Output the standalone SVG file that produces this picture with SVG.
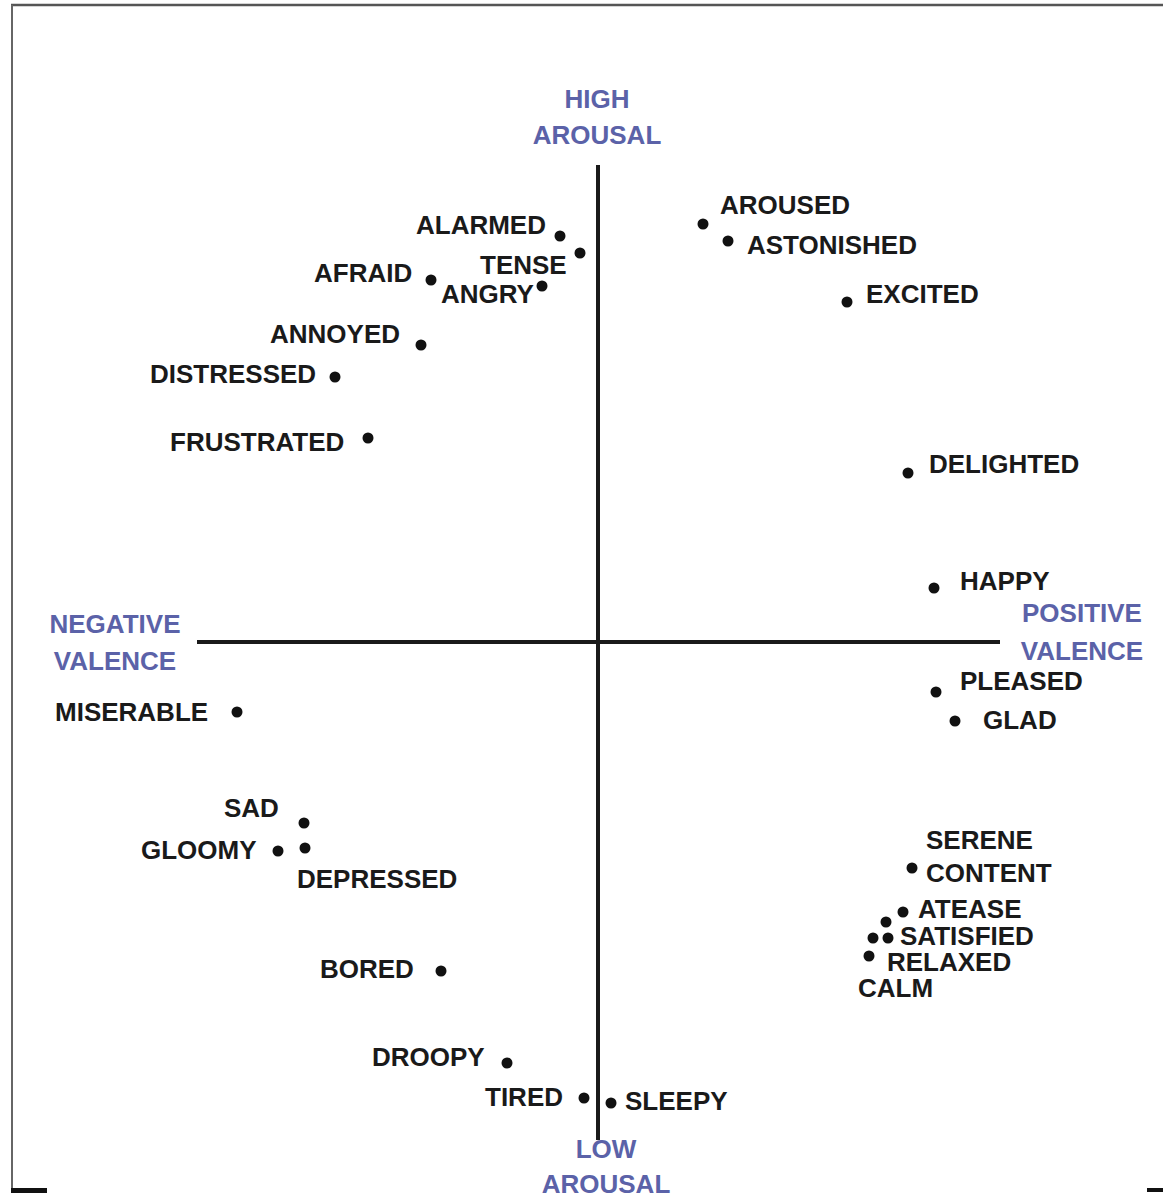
<svg xmlns="http://www.w3.org/2000/svg" width="1163" height="1195" viewBox="0 0 1163 1195">
<style>
.lbl{font-family:"Liberation Sans",Arial,sans-serif;font-weight:bold;font-size:26px;fill:#1a1a1a}
.ax{font-family:"Liberation Sans",Arial,sans-serif;font-weight:bold;font-size:26px;fill:#5b62a8;text-anchor:middle}
.dot{fill:#111}
.axis{stroke:#1a1a1a;stroke-width:4;fill:none}
</style>
<rect width="1163" height="1195" fill="#fff"/>
<g id="frame">
<line x1="11" y1="5" x2="1163" y2="5" stroke="#555" stroke-width="2.5"/>
<line x1="12" y1="5" x2="12" y2="1192" stroke="#666" stroke-width="2"/>
<rect x="11" y="1188" width="36" height="5" fill="#111"/>
<rect x="1147" y="1188" width="16" height="4" fill="#111"/>
</g>
<g id="axes">
<line class="axis" x1="598" y1="165" x2="598" y2="1140"/>
<line class="axis" x1="197" y1="642" x2="1000" y2="642"/>
</g>
<g id="axis-labels">
<text class="ax" x="597" y="108">HIGH</text>
<text class="ax" x="597" y="144">AROUSAL</text>
<text class="ax" x="115" y="633">NEGATIVE</text>
<text class="ax" x="115" y="670">VALENCE</text>
<text class="ax" x="1082" y="622">POSITIVE</text>
<text class="ax" x="1082" y="660">VALENCE</text>
<text class="ax" x="606" y="1158">LOW</text>
<text class="ax" x="606" y="1193">AROUSAL</text>
</g>
<g id="alarmed"><circle class="dot" cx="560" cy="236" r="5.5"/><text class="lbl" x="416" y="234">ALARMED</text></g>
<g id="tense"><circle class="dot" cx="580" cy="253" r="5.5"/><text class="lbl" x="480" y="274">TENSE</text></g>
<g id="afraid"><circle class="dot" cx="431" cy="280" r="5.5"/><text class="lbl" x="314" y="282">AFRAID</text></g>
<g id="angry"><circle class="dot" cx="542" cy="286" r="5.5"/><text class="lbl" x="441" y="303">ANGRY</text></g>
<g id="annoyed"><circle class="dot" cx="421" cy="345" r="5.5"/><text class="lbl" x="270" y="343">ANNOYED</text></g>
<g id="distressed"><circle class="dot" cx="335" cy="377" r="5.5"/><text class="lbl" x="150" y="383">DISTRESSED</text></g>
<g id="frustrated"><circle class="dot" cx="368" cy="438" r="5.5"/><text class="lbl" x="170" y="451">FRUSTRATED</text></g>
<g id="aroused"><circle class="dot" cx="703" cy="224" r="5.5"/><text class="lbl" x="720" y="214">AROUSED</text></g>
<g id="astonished"><circle class="dot" cx="728" cy="241" r="5.5"/><text class="lbl" x="747" y="254">ASTONISHED</text></g>
<g id="excited"><circle class="dot" cx="847" cy="302" r="5.5"/><text class="lbl" x="866" y="303">EXCITED</text></g>
<g id="delighted"><circle class="dot" cx="908" cy="473" r="5.5"/><text class="lbl" x="929" y="473">DELIGHTED</text></g>
<g id="happy"><circle class="dot" cx="934" cy="588" r="5.5"/><text class="lbl" x="960" y="590">HAPPY</text></g>
<g id="pleased"><circle class="dot" cx="936" cy="692" r="5.5"/><text class="lbl" x="960" y="690">PLEASED</text></g>
<g id="glad"><circle class="dot" cx="955" cy="721" r="5.5"/><text class="lbl" x="983" y="729">GLAD</text></g>
<g id="miserable"><circle class="dot" cx="237" cy="712" r="5.5"/><text class="lbl" x="55" y="721">MISERABLE</text></g>
<g id="sad"><circle class="dot" cx="304" cy="823" r="5.5"/><text class="lbl" x="224" y="817">SAD</text></g>
<g id="gloomy"><circle class="dot" cx="278" cy="851" r="5.5"/><text class="lbl" x="141" y="859">GLOOMY</text></g>
<g id="depressed"><circle class="dot" cx="305" cy="848" r="5.5"/><text class="lbl" x="297" y="888">DEPRESSED</text></g>
<g id="bored"><circle class="dot" cx="441" cy="971" r="5.5"/><text class="lbl" x="320" y="978">BORED</text></g>
<g id="droopy"><circle class="dot" cx="507" cy="1063" r="5.5"/><text class="lbl" x="372" y="1066">DROOPY</text></g>
<g id="tired"><circle class="dot" cx="584" cy="1098" r="5.5"/><text class="lbl" x="485" y="1106">TIRED</text></g>
<g id="sleepy"><circle class="dot" cx="611" cy="1103" r="5.5"/><text class="lbl" x="625" y="1110">SLEEPY</text></g>
<g id="serene"><text class="lbl" x="926" y="849">SERENE</text></g>
<g id="content"><circle class="dot" cx="912" cy="868" r="5.5"/><text class="lbl" x="926" y="882">CONTENT</text></g>
<g id="atease"><circle class="dot" cx="903" cy="912" r="5.5"/><text class="lbl" x="918" y="918">ATEASE</text></g>
<g id="satisfied"><circle class="dot" cx="886" cy="922" r="5.5"/><circle class="dot" cx="888" cy="938" r="5.5"/><text class="lbl" x="900" y="945">SATISFIED</text></g>
<g id="relaxed"><circle class="dot" cx="873" cy="938" r="5.5"/><text class="lbl" x="887" y="971">RELAXED</text></g>
<g id="calm"><circle class="dot" cx="869" cy="956" r="5.5"/><text class="lbl" x="858" y="997">CALM</text></g>
</svg>
